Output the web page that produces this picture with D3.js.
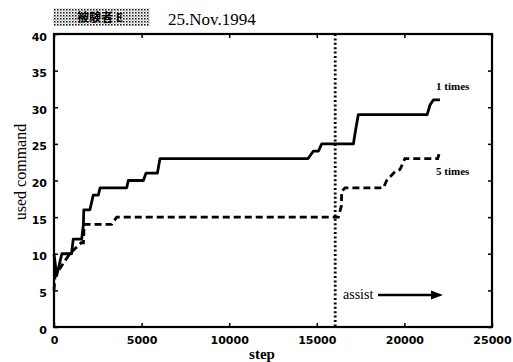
<!DOCTYPE html>
<html><head><meta charset="utf-8">
<script src="https://cdn.jsdelivr.net/npm/d3@7"></script>
<style>body{margin:0;background:#fff}svg{display:block}</style>
</head><body><svg id="c" width="513" height="362"></svg>
<script>
const titleBox = "被験者 E";
const titleDate = "25.Nov.1994";
const xTicks = [0, 5000, 10000, 15000, 20000, 25000];
const yTicks = [0, 5, 10, 15, 20, 25, 30, 35, 40];
const assistStep = 16050;
// "1 times" (solid)
const once = [[0,10],[150,7],[450,10],[1000,10],[1100,12],[1580,12],[1680,14],[1700,16],[2050,16],[2240,18],[2530,18],[2630,19],[4150,19],[4240,20],[5100,20],[5250,21],[5900,21],[6050,23],[14500,23],[14800,24],[15090,24],[15280,25],[17090,25],[17180,26.4],[17370,29],[21300,29],[21460,30.3],[21650,31],[22030,31]];
// "5 times" (dashed)
const five = [[0,5],[60,7],[900,10],[1550,11.5],[1680,11.5],[1720,14],[3290,14],[3580,15],[16230,15],[16400,16.5],[16420,18.5],[16610,19],[18800,19],[18990,20],[19460,21.2],[19750,21.5],[20030,23],[21900,23],[22030,24]];

const svg = d3.select("#c");
const x = d3.scaleLinear().domain([0,25000]).range([54,492]);
const y = d3.scaleLinear().domain([0,40]).range([327,34]);

// title box
const defs = svg.append("defs");
const pat = defs.append("pattern").attr("id","dots").attr("width",3).attr("height",3).attr("patternUnits","userSpaceOnUse");
pat.append("rect").attr("width",3).attr("height",3).attr("fill","#fff");
pat.append("rect").attr("x",0).attr("y",0).attr("width",1.5).attr("height",1.5).attr("fill","#111");
pat.append("rect").attr("x",1.5).attr("y",1.5).attr("width",1).attr("height",1).attr("fill","#666");
svg.append("rect").attr("x",53).attr("y",8).attr("width",97).attr("height",18).attr("fill","url(#dots)");
svg.append("text").attr("x",100).attr("y",22).attr("text-anchor","middle")
  .attr("font-family","Noto Sans CJK JP").attr("font-weight","bold").attr("font-size",12).attr("fill","#000").text(titleBox);
svg.append("text").attr("x",168).attr("y",25).attr("font-family","Liberation Serif").attr("font-size",17).attr("fill","#000").text(titleDate);

// axes
const fontAx = g => g.selectAll("text").attr("font-family","DejaVu Sans").attr("font-weight","bold").attr("font-size",11).attr("fill","#000");
const ax = (g) => { g.select(".domain").remove(); g.selectAll("line").attr("stroke","#000").attr("stroke-width",1.5); };
svg.append("g").attr("transform","translate(0,327)").call(d3.axisBottom(x).tickValues(xTicks).tickSize(-4).tickPadding(9).tickFormat(d3.format("d"))).call(ax).call(fontAx);
svg.append("g").attr("transform","translate(0,34)").call(d3.axisTop(x).tickValues(xTicks).tickSize(-4).tickFormat("")).call(ax);
svg.append("g").attr("transform","translate(54,0)").call(d3.axisLeft(y).tickValues(yTicks).tickSize(-4).tickPadding(7)).call(ax).call(fontAx)
  .selectAll("text").attr("dy","0.55em");
svg.append("g").attr("transform","translate(492,0)").call(d3.axisRight(y).tickValues(yTicks).tickSize(-4).tickFormat("")).call(ax);
svg.append("rect").attr("x",54).attr("y",34).attr("width",438).attr("height",293).attr("fill","none").attr("stroke","#000").attr("stroke-width",2.2);

// assist line
svg.append("line").attr("x1",x(assistStep)).attr("x2",x(assistStep)).attr("y1",y(40)).attr("y2",y(0))
  .attr("stroke","#000").attr("stroke-width",2.8).attr("stroke-dasharray","2,2.4");

const line = d3.line().x(d=>x(d[0])).y(d=>y(d[1]));
svg.append("path").datum(once).attr("d",line).attr("fill","none").attr("stroke","#000").attr("stroke-width",2.8).attr("stroke-linejoin","round");
svg.append("path").datum(five).attr("d",line).attr("fill","none").attr("stroke","#000").attr("stroke-width",2.8).attr("stroke-dasharray","7,4");

// labels
const serif = s => s.attr("font-family","Liberation Serif").attr("fill","#000");
svg.append("text").attr("x",436).attr("y",90).attr("font-size",11).attr("font-weight","bold").call(serif).text("1 times");
svg.append("text").attr("x",436).attr("y",175).attr("font-size",11).attr("font-weight","bold").call(serif).text("5 times");
svg.append("text").attr("x",343).attr("y",299).attr("font-size",14).call(serif).text("assist");
svg.append("line").attr("x1",378).attr("x2",434).attr("y1",295).attr("y2",295).attr("stroke","#000").attr("stroke-width",2.4);
svg.append("path").attr("d","M431,290.5 L443,295 L431,299.5 Z").attr("fill","#000");
svg.append("text").attr("transform","translate(26,172) rotate(-90)").attr("text-anchor","middle").attr("font-size",16).call(serif).text("used command");
svg.append("text").attr("x",262).attr("y",359).attr("text-anchor","middle").attr("font-size",15).attr("font-weight","bold").call(serif).text("step");
</script></body></html>
